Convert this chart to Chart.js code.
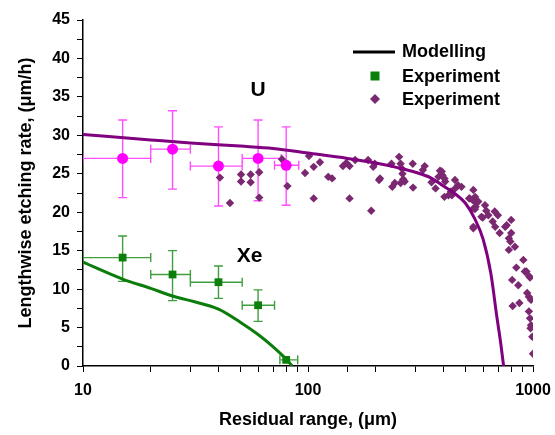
<!DOCTYPE html>
<html>
<head>
<meta charset="utf-8">
<title>Lengthwise etching rate</title>
<script src="https://cdn.jsdelivr.net/npm/chart.js@4.4.1/dist/chart.umd.min.js"></script>
<style>
  html, body { margin: 0; padding: 0; background: #fff; }
  #wrap { width: 555px; height: 435px; }
</style>
</head>
<body>
<div id="wrap"><canvas id="etchChart" width="555" height="435"></canvas></div>
<script>
// ---- data ----
const xTickLabels = [10, 100, 1000];

// modelling curves
const uModelX = [10, 20, 30, 50, 70, 100, 150, 200, 250, 300, 350, 400, 450, 500, 550, 600, 650, 690, 720, 740];
const uModelY = [30.1, 29.4, 29.0, 28.6, 28.3, 27.7, 27.0, 26.4, 25.8, 25.2, 24.5, 23.4, 22.4, 21.2, 19.2, 16.5, 12.0, 6.5, 2.8, 0];
const xeModelX = [10, 15, 20, 25, 30, 40, 50, 60, 70, 80, 85];
const xeModelY = [13.5, 11.3, 10.1, 9.1, 8.5, 7.4, 5.7, 4.1, 2.5, 0.9, 0];

// U experiment (magenta) with error bars
const uExpX   = [15, 25, 40, 60, 80];
const uExpY   = [27.0, 28.2, 26.0, 27.0, 26.1];
const uExpXLo = [10, 20, 30, 51, 71];
const uExpXHi = [20, 30, 51, 76, 91];
const uExpYLo = [21.9, 23.0, 20.8, 21.5, 20.9];
const uExpYHi = [32.0, 33.2, 31.1, 32.0, 31.1];

// Xe experiment (green) with error bars
const xeExpX   = [15, 25, 40, 60, 80];
const xeExpY   = [14.1, 11.9, 10.9, 7.9, 0.8];
const xeExpXLo = [10, 20, 30, 51, 75];
const xeExpXHi = [20, 30, 51, 71, 90];
const xeExpYLo = [11.0, 8.5, 8.8, 5.8, null];
const xeExpYHi = [16.9, 15.0, 13.0, 9.9, null];

// U track measurements (purple diamonds)
const uTrackX = [40.6, 45, 50.4, 50.4, 55.6, 55.6, 60.7, 60.7, 76.6, 81, 97, 101, 106, 106, 113, 123, 128,
  143, 148, 153, 162, 153, 185, 195, 198, 207, 191, 209, 235, 237, 243, 254, 258, 261, 263, 258, 265, 269, 292, 293,
  324, 330, 354, 369, 386, 396, 404, 421, 432, 450, 451, 464, 481, 520, 543, 553, 556, 571, 590, 543,
  393, 380, 407, 436, 404, 524,
  538, 560, 543, 552, 543, 612, 620, 598, 633, 676, 698, 662, 679, 711, 752, 764, 800, 800, 781, 793, 781, 831, 906, 843, 920, 970,
  808, 860, 935, 959, 812, 870, 942, 959, 980, 959, 970, 980, 975, 993, 1000];
const uTrackY = [24.5, 21.2, 24.9, 24.0, 24.9, 23.9, 25.2, 21.9, 26.9, 23.4, 25.1, 27.3, 25.9, 21.8, 26.5, 24.6, 24.4,
  26.0, 26.4, 26.0, 26.8, 21.8, 26.8, 25.9, 26.3, 24.2, 20.2, 24.4, 26.3, 23.3, 23.8, 27.2, 26.3, 25.7, 25.0, 23.8, 24.3, 24.0, 26.3, 23.2,
  25.5, 26.0, 23.9, 23.1, 25.4, 24.8, 24.4, 22.2, 22.7, 24.2, 23.1, 23.5, 23.3, 21.8, 22.9, 22.0, 20.7, 21.4, 19.4, 18.1,
  25.3, 24.6, 24.0, 22.2, 22.0, 21.8,
  21.6, 21.2, 20.5, 20.4, 17.9, 20.9, 20.2, 19.3, 19.6, 20.1, 19.6, 18.8, 18.1, 17.3, 18.1, 18.3, 19.0, 17.3, 16.6, 16.2, 15.1, 15.5, 13.8, 12.8, 12.3, 11.5,
  11.2, 10.5, 12.3, 11.7, 7.8, 8.2, 9.5, 9.0, 8.6, 7.1, 6.2, 5.3, 4.9, 3.8, 1.6];

const FONT = 'Arial, "Liberation Sans", sans-serif';
const PURPLE = '#800080';
const GREEN = '#0a800a';
const MAGENTA = '#ff00ff';
const DIAMOND = '#7a2870';

const toPts = (xs, ys) => xs.map((x, i) => ({ x: x, y: ys[i] }));

// error bars drawn under the markers
const errorBars = {
  id: 'errorBars',
  beforeDatasetsDraw(chart) {
    const { ctx, chartArea: a, scales: { x, y } } = chart;
    const cap = 4.5;
    ctx.save();
    ctx.beginPath();
    ctx.rect(a.left, a.top, a.right - a.left, a.bottom - a.top);
    ctx.clip();
    chart.data.datasets.forEach(ds => {
      if (!ds.err) return;
      ctx.strokeStyle = ds.err.color;
      ctx.lineWidth = 1.4;
      ds.data.forEach((p, i) => {
        const px = x.getPixelForValue(p.x), py = y.getPixelForValue(p.y);
        const xl = x.getPixelForValue(ds.err.xLo[i]), xh = x.getPixelForValue(ds.err.xHi[i]);
        ctx.beginPath();
        ctx.moveTo(xl, py); ctx.lineTo(xh, py);
        ctx.moveTo(xl, py - cap); ctx.lineTo(xl, py + cap);
        ctx.moveTo(xh, py - cap); ctx.lineTo(xh, py + cap);
        if (ds.err.yLo[i] != null) {
          const yl = y.getPixelForValue(ds.err.yLo[i]), yh = y.getPixelForValue(ds.err.yHi[i]);
          ctx.moveTo(px, yl); ctx.lineTo(px, yh);
          ctx.moveTo(px - cap, yl); ctx.lineTo(px + cap, yl);
          ctx.moveTo(px - cap, yh); ctx.lineTo(px + cap, yh);
        }
        ctx.stroke();
      });
    });
    ctx.restore();
  }
};

// legend box and the U / Xe labels
const annotations = {
  id: 'annotations',
  afterDraw(chart) {
    const { ctx, scales: { x, y } } = chart;
    ctx.save();
    ctx.fillStyle = '#000';
    ctx.textBaseline = 'middle';
    ctx.font = 'bold 21px ' + FONT;
    ctx.textAlign = 'center';
    ctx.fillText('U', x.getPixelForValue(60), y.getPixelForValue(35.9));
    ctx.fillText('Xe', x.getPixelForValue(55), y.getPixelForValue(14.3));

    // legend
    ctx.textAlign = 'left';
    ctx.font = 'bold 18px ' + FONT;
    ctx.strokeStyle = '#000';
    ctx.lineWidth = 3;
    ctx.beginPath();
    ctx.moveTo(353, 52); ctx.lineTo(395, 52);
    ctx.stroke();
    ctx.fillText('Modelling', 402, 52);

    ctx.fillStyle = GREEN;
    ctx.fillRect(370.5, 71.5, 9, 9);
    ctx.fillStyle = '#000';
    ctx.fillText('Experiment', 402, 77);

    ctx.fillStyle = DIAMOND;
    ctx.beginPath();
    ctx.moveTo(375, 94); ctx.lineTo(380, 99); ctx.lineTo(375, 104); ctx.lineTo(370, 99);
    ctx.closePath();
    ctx.fill();
    ctx.fillStyle = '#000';
    ctx.fillText('Experiment', 402, 100);
    ctx.restore();
  }
};

const ctx = document.getElementById('etchChart').getContext('2d');
new Chart(ctx, {
  type: 'scatter',
  data: {
    datasets: [
      {
        label: 'U experiment',
        data: toPts(uExpX, uExpY),
        pointStyle: 'circle', pointRadius: 5.5,
        backgroundColor: MAGENTA, borderColor: MAGENTA, borderWidth: 0,
        err: { color: '#ff4dff', xLo: uExpXLo, xHi: uExpXHi, yLo: uExpYLo, yHi: uExpYHi },
        order: 1
      },
      {
        label: 'Xe experiment',
        data: toPts(xeExpX, xeExpY),
        pointStyle: 'rect', pointRadius: 5.5,
        backgroundColor: GREEN, borderColor: GREEN, borderWidth: 0,
        err: { color: '#3f9f3f', xLo: xeExpXLo, xHi: xeExpXHi, yLo: xeExpYLo, yHi: xeExpYHi },
        order: 2
      },
      {
        label: 'U modelling',
        type: 'line',
        data: toPts(uModelX, uModelY),
        borderColor: PURPLE, borderWidth: 3, pointRadius: 0,
        cubicInterpolationMode: 'monotone', fill: false,
        order: 3
      },
      {
        label: 'Xe modelling',
        type: 'line',
        data: toPts(xeModelX, xeModelY),
        borderColor: '#0b7d0b', borderWidth: 3, pointRadius: 0,
        cubicInterpolationMode: 'monotone', fill: false,
        order: 4
      },
      {
        label: 'U tracks',
        data: toPts(uTrackX, uTrackY),
        pointStyle: 'rectRot', pointRadius: 4.2,
        backgroundColor: DIAMOND, borderColor: DIAMOND, borderWidth: 0,
        order: 5
      }
    ]
  },
  options: {
    responsive: false,
    animation: false,
    layout: { padding: { top: 20, right: 22, left: 0, bottom: 0 } },
    plugins: { legend: { display: false }, tooltip: { enabled: false } },
    scales: {
      x: {
        type: 'logarithmic',
        min: 10, max: 1000,
        border: { color: '#000', width: 1.5 },
        grid: { drawOnChartArea: false, drawTicks: true, tickLength: 6, tickColor: '#000', tickWidth: 1 },
        ticks: {
          autoSkip: false, maxRotation: 0, padding: 9, color: '#000',
          font: { family: FONT, size: 16, weight: 'bold' },
          callback: v => xTickLabels.includes(v) ? String(v) : ''
        },
        title: {
          display: true, text: 'Residual range, (μm)', color: '#000',
          font: { family: FONT, size: 18, weight: 'bold' },
          padding: { top: 0, bottom: 4 }
        },
        afterFit: s => { s.height = 69; s.paddingLeft = 0; s.paddingRight = 0; }
      },
      y: {
        min: 0, max: 45,
        border: { color: '#000', width: 1.5 },
        grid: { drawOnChartArea: false, drawTicks: true, tickLength: 6, tickColor: '#000', tickWidth: 1 },
        ticks: {
          stepSize: 2.5, autoSkip: false, padding: 7, color: '#000',
          font: { family: FONT, size: 16, weight: 'bold' },
          callback: v => v % 5 === 0 ? String(v) : ''
        },
        title: {
          display: true, text: 'Lengthwise etching rate, (μm/h)', color: '#000',
          font: { family: FONT, size: 18, weight: 'bold' },
          padding: { top: 15, bottom: 0 }
        },
        afterFit: s => { s.width = 83; }
      }
    }
  },
  plugins: [errorBars, annotations]
});
</script>
</body>
</html>
